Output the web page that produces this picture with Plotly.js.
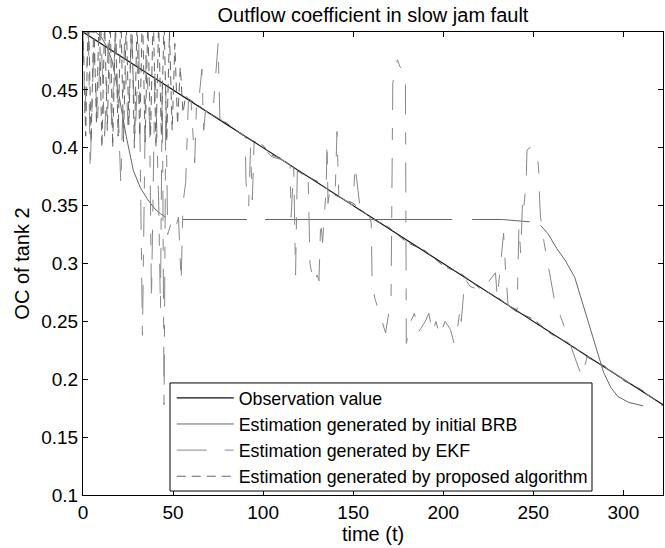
<!DOCTYPE html>
<html>
<head>
<meta charset="utf-8">
<script src="https://cdn.plot.ly/plotly-3.0.1.min.js"></script>
<style>html,body{margin:0;padding:0;background:#fff;}#chart{width:665px;height:548px;}</style>
</head>
<body>
<div id="chart"></div>
<script>
// ---- data ----
const obsT = [0, 322];
const obsY = [0.5, 0.178];

const brbT = [0, 7, 10, 13, 16, 20, 24, 28, 32, 36, 40, 43, 46, null, 55.5, 91, null, 101, 205, null, 216, 233, 248, null, 254, 258, 263, 268, 273, 276, 281, 285.5, 289, 293, 297, 303, 311];
const brbY = [0.5, 0.5, 0.496, 0.488, 0.476, 0.445, 0.41, 0.38, 0.365, 0.355, 0.347, 0.343, 0.34, null, 0.338, 0.338, null, 0.338, 0.338, null, 0.338, 0.338, 0.336, null, 0.333, 0.326, 0.313, 0.302, 0.288, 0.273, 0.248, 0.224, 0.206, 0.193, 0.185, 0.18, 0.177];

const ekfT = [0, 1, 3, 4, 6, 8, 10, 12, 14, 16, 18, 21, 23, 25, 27, 29, 31, 33, 35, 37, 38, 40, 42, 43, 44, 45, 46, 47, 49, 51, 53, 54.5, 55.5, 57, 58.5,
  60, 62, 63, 64, 66, 67, 68, 72, 75, 76, 80, 85, 90, 90.5, 92, 93, 94, 95, 100, 105, 110, 115, 115.5, 117, 118, 119, 125, 126, 128, 130, 131, 132, 133, 135, 135.5, 136, 137, 140, 141, 142, 145, 150, 151, 153, 154, 159,
  160, 160.5, 162, 165, 168, 170, 171, 172, 174.5, 176, 179, 179.5, 182, 184, 186, 190, 192, 194, 196, 198, 201, 204, 206, 208, 209.5, 210, 212, 215, 219, 222, 229, 230, 233.5, 234.5, 236, 241, 242, 243, 244, 244.5, 246, 246.5, 248, 252, 253, 253.5, 254,
  256, 259, 262, 265, 269, 273, 277, 280, 290, 300, 310, 322];
const ekfY = [0.5, 0.43, 0.5, 0.38, 0.49, 0.42, 0.5, 0.41, 0.49, 0.42, 0.5, 0.368, 0.49, 0.42, 0.5, 0.41, 0.49, 0.238, 0.48, 0.42, 0.268, 0.47, 0.354, 0.26, 0.46, 0.178, 0.45, 0.325, 0.335, 0.328, 0.34, 0.284, 0.352, 0.37, 0.44,
  0.44, 0.387, 0.437, 0.436, 0.468, 0.415, 0.432, 0.428, 0.49, 0.425, 0.42, 0.415, 0.41, 0.37, 0.35, 0.40, 0.355, 0.405, 0.40, 0.392, 0.39, 0.385, 0.34, 0.383, 0.29, 0.381, 0.375, 0.30, 0.283, 0.29, 0.285, 0.338, 0.318, 0.365, 0.405, 0.352, 0.363, 0.36, 0.414, 0.358, 0.355, 0.35, 0.385, 0.357, 0.346, 0.341,
  0.335, 0.286, 0.27, 0.255, 0.24, 0.26, 0.266, 0.456, 0.476, 0.47, 0.465, 0.231, 0.25, 0.257, 0.24, 0.25, 0.257, 0.24, 0.25, 0.237, 0.25, 0.243, 0.231, 0.245, 0.262, 0.25, 0.287, 0.28, 0.278, 0.278, 0.292, 0.27, 0.326, 0.297, 0.264, 0.26, 0.332, 0.309, 0.352, 0.344, 0.37, 0.398, 0.40, 0.398, 0.38, 0.355, 0.34,
  0.318, 0.292, 0.266, 0.255, 0.236, 0.219, 0.202, 0.22, 0.21, 0.20, 0.19, 0.178];

const propT = [0, 1.5, 3, 4.5, 6, 7.5, 9, 10.5, 12, 13.5, 15, 16.5, 18, 19.5, 21, 22.5, 24, 25.5, 27, 28.5, 30, 31.5, 33, 34.5, 36, 37.5, 39, 40.5, 42, 43.5, 45, 46.5, 48, 49.5, 51, 52.5, 54, 55.5, 57, 58.5,
  60, 70, 80, 90, 100, 104, 110, 120, 130, 140, 150, 160, 170, 180, 190, 200, 210, 220, 230, 240, 250, 260, 270, 280, 290, 300, 310, 322];
const propY = [0.505, 0.41, 0.52, 0.405, 0.51, 0.42, 0.52, 0.40, 0.51, 0.415, 0.52, 0.40, 0.51, 0.41, 0.52, 0.405, 0.51, 0.42, 0.52, 0.40, 0.51, 0.41, 0.52, 0.405, 0.51, 0.41, 0.52, 0.40, 0.51, 0.41, 0.51, 0.405, 0.50, 0.415, 0.49, 0.42, 0.47, 0.43, 0.445, 0.442,
  0.441, 0.430, 0.421, 0.409, 0.402, 0.394, 0.391, 0.379, 0.371, 0.359, 0.352, 0.339, 0.331, 0.318, 0.311, 0.298, 0.291, 0.279, 0.271, 0.259, 0.252, 0.239, 0.231, 0.219, 0.211, 0.199, 0.191, 0.177];

const xTickVals = [0, 50, 100, 150, 200, 250, 300];
const yTickVals = [0.1, 0.15, 0.2, 0.25, 0.3, 0.35, 0.4, 0.45, 0.5];
const yTickText = ['0.1', '0.15', '0.2', '0.25', '0.3', '0.35', '0.4', '0.45', '0.5'];

const names = ['Observation value', 'Estimation generated by initial BRB', 'Estimation generated by EKF', 'Estimation generated by proposed algorithm'];

const FONT = 'Liberation Sans, Arial, Helvetica, sans-serif';

const traces = [
  {x: obsT, y: obsY, name: names[0], mode: 'lines', line: {color: '#111', width: 1.2}},
  {x: brbT, y: brbY, name: names[1], mode: 'lines', connectgaps: false, line: {color: '#666', width: 1}},
  {x: ekfT, y: ekfY, name: names[2], mode: 'lines', line: {color: '#888', width: 1, dash: '30px,18px,12px,18px'}},
  {x: propT, y: propY, name: names[3], mode: 'lines', line: {color: '#666', width: 1, dash: '9px,6px'}}
];

const axisCommon = {
  showline: true, linecolor: '#000', linewidth: 1, mirror: 'ticks',
  ticks: 'inside', ticklen: 5, tickcolor: '#000', showgrid: false, zeroline: false,
  tickfont: {family: FONT, size: 19, color: '#000'}
};

const layout = {
  width: 665, height: 548,
  margin: {l: 83, r: 2, t: 32, b: 53},
  paper_bgcolor: '#fff', plot_bgcolor: '#fff',
  font: {family: FONT, color: '#000'},
  title: {text: 'Outflow coefficient in slow jam fault', font: {family: FONT, size: 20, color: '#000'}, x: 0.5, xref: 'paper', y: 0.973, yref: 'container', yanchor: 'middle'},
  xaxis: Object.assign({}, axisCommon, {range: [0, 322], tickvals: xTickVals, title: {text: 'time (t)', font: {family: FONT, size: 20, color: '#000'}, standoff: 4}}),
  yaxis: Object.assign({}, axisCommon, {range: [0.1, 0.5], tickvals: yTickVals, ticktext: yTickText, title: {text: 'OC of tank 2', font: {family: FONT, size: 20, color: '#000'}, standoff: 6}}),
  showlegend: true,
  legend: {x: 0.153, y: 0.0005, xanchor: 'left', yanchor: 'bottom', bgcolor: 'rgba(0,0,0,0)', borderwidth: 0,
    font: {family: FONT, size: 17.8, color: '#000'}, itemwidth: 57},
  shapes: [
    {type: 'rect', xref: 'paper', yref: 'paper', layer: 'above',
     x0: 0.15, x1: 0.8776, y0: 0.0086, y1: 0.242,
     fillcolor: '#fff', line: {color: '#000', width: 1}}
  ]
};

Plotly.newPlot('chart', traces, layout, {displayModeBar: false, staticPlot: true});
</script>
</body>
</html>
